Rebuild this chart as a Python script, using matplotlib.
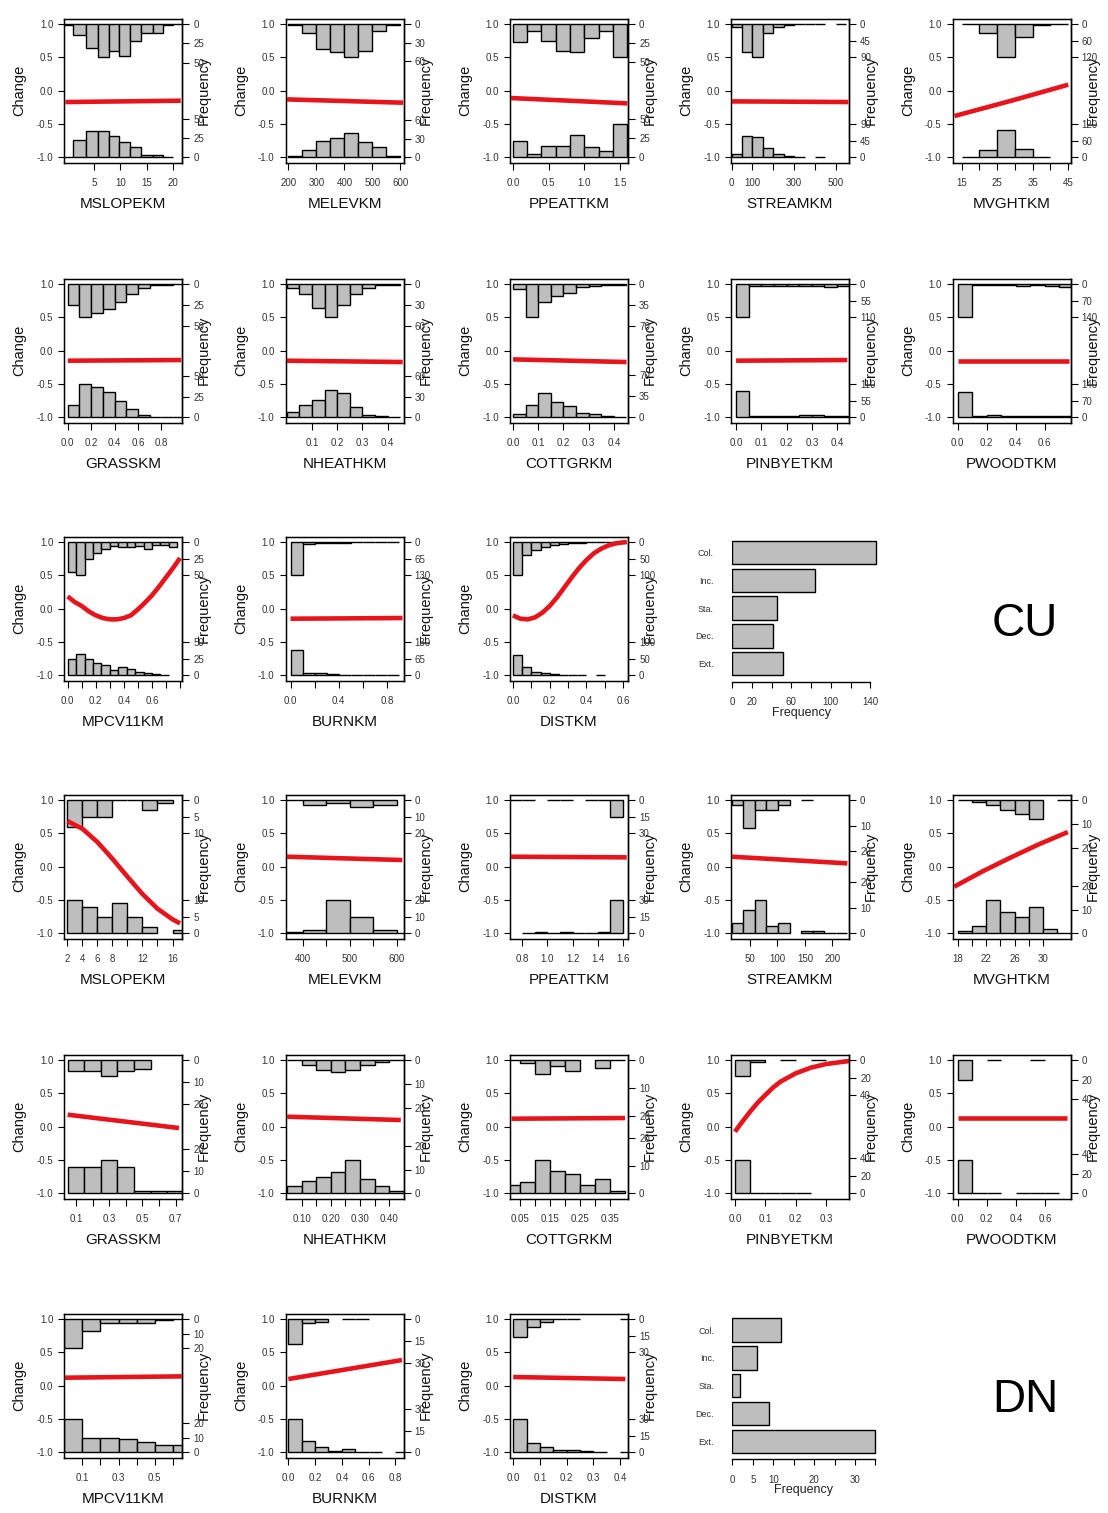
import matplotlib
matplotlib.use("Agg")
import matplotlib.pyplot as plt

plt.rcParams['font.family'] = ['Liberation Sans', 'DejaVu Sans']
plt.rcParams['axes.unicode_minus'] = False

N = None
GREY = "#bebebe"
RED = "#e8141c"

# ------------------------- CU data -------------------------
cu_mslope_edges = [-0.7, 1.0, 3.4, 5.8, 7.9, 9.8, 11.9, 14.0, 16.3, 18.1, 20.0, 21.8]
cu_mslope_top = [1, 14, 31, 43, 35, 41, 22, 12, 11, 1, 0]
cu_mslope_bot = [1, 23, 34, 34, 27, 20, 14, 3, 3, 1, N]
cu_mslope_cx = [-0.5, 21.5]
cu_mslope_cy = [-0.17, -0.15]

cu_melev_edges = [200, 250, 300, 350, 400, 450, 500, 550, 600]
cu_melev_top = [1, 15, 41, 46, 54, 43, 11, 1]
cu_melev_bot = [3, 12, 26, 32, 40, 25, 16, 2]
cu_melev_cx = [192, 610]
cu_melev_cy = [-0.13, -0.18]

cu_ppeat_edges = [0, 0.2, 0.4, 0.6, 0.8, 1.0, 1.2, 1.4, 1.6]
cu_ppeat_top = [24, 9, 23, 36, 37, 19, 9, 44]
cu_ppeat_bot = [22, 4, 15, 15, 30, 14, 8, 44]
cu_ppeat_cx = [-0.03, 1.6]
cu_ppeat_cy = [-0.11, -0.19]

cu_stream_edges = [0, 50, 100, 150, 200, 250, 300, 350, 400, 450, 500, 550]
cu_stream_top = [9, 77, 91, 25, 9, 3, 1, 0, 0, N, 0]
cu_stream_bot = [9, 59, 56, 25, 9, 5, 1, N, 0, N, N]
cu_stream_cx = [-2, 560]
cu_stream_cy = [-0.16, -0.17]

cu_mvght_edges = [15, 20, 25, 30, 35, 40, 45]
cu_mvght_top = [0, 34, 120, 48, 2, 0]
cu_mvght_bot = [0, 26, 98, 30, 2, N]
cu_mvght_cx = [13, 29, 45]
cu_mvght_cy = [-0.38, -0.15, 0.09]

cu_grass_edges = [0, 0.1, 0.2, 0.3, 0.4, 0.5, 0.6, 0.7, 0.8, 0.9, 1.0]
cu_grass_top = [25, 40, 35, 30, 22, 12, 5, 1, 1, 0]
cu_grass_bot = [15, 40, 37, 30, 20, 10, 3, 1, 1, 0]
cu_grass_cx = [0, 0.97]
cu_grass_cy = [-0.15, -0.14]

cu_nheath_edges = [0, 0.05, 0.1, 0.15, 0.2, 0.25, 0.3, 0.35, 0.4, 0.45]
cu_nheath_top = [5, 15, 35, 48, 30, 15, 5, 2, 1]
cu_nheath_bot = [8, 18, 25, 40, 35, 15, 4, 2, 1]
cu_nheath_cx = [0, 0.46]
cu_nheath_cy = [-0.15, -0.17]

cu_cottgr_edges = [0, 0.05, 0.1, 0.15, 0.2, 0.25, 0.3, 0.35, 0.4, 0.45]
cu_cottgr_top = [8, 55, 30, 20, 15, 5, 3, 1, 1]
cu_cottgr_bot = [6, 20, 40, 25, 18, 8, 5, 3, 1]
cu_cottgr_cx = [0, 0.45]
cu_cottgr_cy = [-0.13, -0.17]

cu_pinbye_edges = [0, 0.05, 0.1, 0.15, 0.2, 0.25, 0.3, 0.35, 0.4, 0.45]
cu_pinbye_top = [110, 8, 6, 6, 8, 6, 8, 9, 6]
cu_pinbye_bot = [88, 6, 6, 5, 6, 8, 9, 6, 5]
cu_pinbye_cx = [0, 0.44]
cu_pinbye_cy = [-0.15, -0.14]

cu_pwood_edges = [0, 0.1, 0.2, 0.3, 0.4, 0.5, 0.6, 0.7, 0.8]
cu_pwood_top = [140, 6, 5, 6, 8, 6, 8, 12]
cu_pwood_bot = [105, 5, 8, 5, 5, 4, 4, 4]
cu_pwood_cx = [0, 0.77]
cu_pwood_cy = [-0.15, -0.15]

cu_mpcv_edges = [0, 0.06, 0.12, 0.18, 0.24, 0.30, 0.36, 0.42, 0.48, 0.54, 0.60, 0.66, 0.72, 0.78]
cu_mpcv_top = [45, 50, 26, 16, 11, 6, 8, 8, 6, 10, 5, 5, 7]
cu_mpcv_bot = [25, 32, 24, 19, 16, 8, 12, 9, 5, 3, 2, 0, N]
cu_mpcv_cx = [0, 0.05, 0.1, 0.15, 0.2, 0.25, 0.3, 0.35, 0.4, 0.45, 0.5, 0.55, 0.6, 0.65, 0.7, 0.75, 0.8]
cu_mpcv_cy = [0.185, 0.1, 0.04, -0.04, -0.1, -0.14, -0.16, -0.16, -0.14, -0.1, -0.01, 0.09,
              0.2, 0.33, 0.47, 0.61, 0.76]

cu_burn_edges = [0, 0.1, 0.2, 0.3, 0.4, 0.5, 0.6, 0.7, 0.8, 0.9]
cu_burn_top = [130, 8, 5, 4, 2, 1, 1, 1, 1]
cu_burn_bot = [98, 10, 10, 5, 3, 2, 1, 1, 1]
cu_burn_cx = [0, 0.93]
cu_burn_cy = [-0.15, -0.14]

cu_dist_edges = [0, 0.05, 0.1, 0.15, 0.2, 0.25, 0.3, 0.35, 0.4, 0.45, 0.5, 0.55, 0.6]
cu_dist_top = [100, 40, 25, 15, 10, 6, 3, 2, 1, 1, 1, 1]
cu_dist_bot = [60, 25, 10, 8, 4, 2, 1, 0, N, 0, N, N]
cu_dist_cx = [0, 0.04, 0.08, 0.12, 0.16, 0.2, 0.24, 0.28, 0.32, 0.36, 0.4, 0.44, 0.48, 0.52,
              0.56, 0.6, 0.62]
cu_dist_cy = [-0.1, -0.15, -0.16, -0.13, -0.06, 0.04, 0.17, 0.32, 0.47, 0.61, 0.73, 0.83,
              0.9, 0.95, 0.98, 0.995, 1.0]

cu_status = ["Col.", "Inc.", "Sta.", "Dec.", "Ext."]
cu_status_freq = [146, 84, 46, 41, 52]

# ------------------------- DN data -------------------------
dn_mslope_edges = [2, 4, 6, 8, 10, 12, 14, 16, 18]
dn_mslope_top = [8, 5, 5, 0, 0, 3, 1, N]
dn_mslope_bot = [10, 8, 5, 9, 5, 2, N, 1]
dn_mslope_cx = [2, 4, 6, 8, 10, 12, 14, 16, 17]
dn_mslope_cy = [0.685, 0.57, 0.37, 0.12, -0.15, -0.41, -0.63, -0.79, -0.85]

dn_melev_edges = [350, 400, 450, 500, 550, 600, 650]
dn_melev_top = [0, 3, 2, 4, 3, N]
dn_melev_bot = [1, 2, 20, 10, 2, 0]
dn_melev_cx = [365, 612]
dn_melev_cy = [0.15, 0.1]

dn_ppeat_edges = [0.7, 0.8, 0.9, 1.0, 1.1, 1.2, 1.3, 1.4, 1.5, 1.6]
dn_ppeat_top = [0, 0, N, 0, 0, N, 0, 0, 15]
dn_ppeat_bot = [N, 0, 1, 0, 1, 0, 0, 1, 30]
dn_ppeat_cx = [0.71, 1.63]
dn_ppeat_cy = [0.15, 0.14]

dn_stream_edges = [17, 38, 59, 80, 101, 122, 143, 164, 185, 206, 227]
dn_stream_top = [2, 11, 4, 4, 2, N, 0, N, N, N]
dn_stream_bot = [4, 9, 13, 3, 4, N, 1, 1, 0, 0]
dn_stream_cx = [17, 227]
dn_stream_cy = [0.15, 0.05]

dn_mvght_edges = [18, 20, 22, 24, 26, 28, 30, 32, 34]
dn_mvght_top = [0, 1, 2, 4, 6, 8, N, 0]
dn_mvght_bot = [1, 3, 14, 9, 7, 11, 2, 0]
dn_mvght_cx = [17.5, 21.5, 25.5, 29.5, 33.5]
dn_mvght_cy = [-0.3, -0.07, 0.14, 0.34, 0.52]

dn_grass_edges = [0.05, 0.15, 0.25, 0.35, 0.45, 0.55, 0.65, 0.75]
dn_grass_top = [5, 5, 7, 5, 4, N, N]
dn_grass_bot = [12, 12, 15, 12, 1, 1, 1]
dn_grass_cx = [0.05, 0.72]
dn_grass_cy = [0.18, -0.02]

dn_nheath_edges = [0.05, 0.1, 0.15, 0.2, 0.25, 0.3, 0.35, 0.4, 0.45]
dn_nheath_top = [0, 2, 4, 5, 4, 2, 1, 0]
dn_nheath_bot = [3, 5, 7, 9, 14, 6, 3, 1]
dn_nheath_cx = [0.05, 0.44]
dn_nheath_cy = [0.15, 0.1]

dn_cottgr_edges = [0.0, 0.05, 0.1, 0.15, 0.2, 0.25, 0.3, 0.35, 0.4]
dn_cottgr_top = [0, 1, 5, 2, 4, N, 3, 0]
dn_cottgr_bot = [3, 4, 12, 8, 7, 3, 5, 1]
dn_cottgr_cx = [0.02, 0.4]
dn_cottgr_cy = [0.12, 0.13]

dn_pinbye_edges = [0, 0.05, 0.1, 0.15, 0.2, 0.25, 0.3, 0.35, 0.4]
dn_pinbye_top = [18, 2, N, 0, N, 0, N, 0]
dn_pinbye_bot = [38, 0, 0, 0, 0, N, N, N]
dn_pinbye_cx = [0, 0.025, 0.05, 0.075, 0.1, 0.125, 0.15, 0.2, 0.25, 0.3, 0.35, 0.376]
dn_pinbye_cy = [-0.075, 0.08, 0.225, 0.36, 0.475, 0.585, 0.675, 0.8, 0.885, 0.94, 0.97, 0.985]

dn_pwood_edges = [0, 0.1, 0.2, 0.3, 0.4, 0.5, 0.6, 0.7]
dn_pwood_top = [20, N, 0, N, N, 0, N]
dn_pwood_bot = [34, 0, 0, N, 0, 0, 0]
dn_pwood_cx = [0, 0.75]
dn_pwood_cy = [0.13, 0.13]

dn_mpcv_edges = [0.0, 0.1, 0.2, 0.3, 0.4, 0.5, 0.6, 0.7]
dn_mpcv_top = [20, 8, 3, 3, 3, 1, 0]
dn_mpcv_bot = [23, 10, 10, 9, 7, 5, 5]
dn_mpcv_cx = [0.0, 0.65]
dn_mpcv_cy = [0.12, 0.14]

dn_burn_edges = [0, 0.1, 0.2, 0.3, 0.4, 0.5, 0.6, 0.7, 0.8, 0.9]
dn_burn_top = [17, 3, 2, N, 0, 0, N, N, N]
dn_burn_bot = [23, 8, 4, 1, 2, 0, 0, N, 0]
dn_burn_cx = [0, 0.85]
dn_burn_cy = [0.1, 0.385]

dn_dist_edges = [0, 0.05, 0.1, 0.15, 0.2, 0.25, 0.3, 0.35, 0.4, 0.45]
dn_dist_top = [16, 7, 3, 0, 0, N, N, N, 0]
dn_dist_bot = [30, 8, 5, 2, 2, 1, 0, N, 0]
dn_dist_cx = [0, 0.42]
dn_dist_cy = [0.13, 0.1]

dn_status = ["Col.", "Inc.", "Sta.", "Dec.", "Ext."]
dn_status_freq = [12, 6, 2, 9, 35]

# ------------------------- layout -------------------------
W, H = 1108, 1513
fig = plt.figure(figsize=(W / 100, H / 100), dpi=100)

COL_L = [64.3, 285.7, 510, 731, 952.7]
BOX_W = 118
ROW_T = [18.7, 278.7, 536.7, 794.7, 1054.7, 1313.7]
BOX_H = 144
TICKC = "#333333"


def hist_panel(row, col, label, edges, top, bot, cx, cy, xlim, xticks, xlabels, fticks):
    x0 = COL_L[col]
    y0 = ROW_T[row]
    ax = fig.add_axes([x0 / W, 1 - (y0 + BOX_H) / H, BOX_W / W, BOX_H / H])
    ax.set_xlim(*xlim)
    ax.set_ylim(-1.08, 1.08)
    vals = [v for v in top + bot if v is not None]
    s = 0.5 / max(vals)
    lefts = edges[:-1]
    widths = [edges[i + 1] - edges[i] for i in range(len(lefts))]
    tl = [lefts[i] for i in range(len(top)) if top[i] is not None]
    tw = [widths[i] for i in range(len(top)) if top[i] is not None]
    th = [-top[i] * s for i in range(len(top)) if top[i] is not None]
    ax.bar(tl, th, width=tw, bottom=1, align='edge', color=GREY,
           edgecolor='black', linewidth=1.0, zorder=2)
    bl = [lefts[i] for i in range(len(bot)) if bot[i] is not None]
    bw = [widths[i] for i in range(len(bot)) if bot[i] is not None]
    bh = [bot[i] * s for i in range(len(bot)) if bot[i] is not None]
    ax.bar(bl, bh, width=bw, bottom=-1, align='edge', color=GREY,
           edgecolor='black', linewidth=1.0, zorder=2)
    ax.plot(cx, cy, color=RED, lw=3.3, zorder=3, solid_capstyle='butt')

    ax.set_yticks([-1, -0.5, 0, 0.5, 1])
    ax.set_yticklabels(["-1.0", "-0.5", "0.0", "0.5", "1.0"])
    ax.set_xticks(xticks)
    ax.set_xticklabels(xlabels)
    ax.tick_params(axis='y', direction='out', length=4, width=0.8,
                   labelsize=7, labelcolor=TICKC, pad=4)
    ax.tick_params(axis='x', direction='out', length=5, width=0.8,
                   labelsize=7, labelcolor=TICKC, pad=6)
    for sp in ax.spines.values():
        sp.set_linewidth(1.0)

    ax2 = ax.twinx()
    ax2.set_ylim(-1.08, 1.08)
    pos = [1 - f * s for f in fticks] + [-1 + f * s for f in fticks]
    ax2.set_yticks(pos)
    ax2.set_yticklabels([str(f) for f in fticks] * 2)
    ax2.tick_params(axis='y', direction='out', length=5, width=0.8,
                    labelsize=7, labelcolor=TICKC, pad=3)
    ax2.spines['right'].set_linewidth(1.0)

    ax.text(-0.378, 0.5, "Change", transform=ax.transAxes, rotation=90,
            ha='center', va='center', fontsize=10.5, color='#111111')
    ax.text(1.185, 0.5, "Frequency", transform=ax.transAxes, rotation=90,
            ha='center', va='center', fontsize=10.5, color='#111111')
    ax.text(0.5, -41 / BOX_H, label, transform=ax.transAxes,
            ha='center', va='center', fontsize=11, color='#111111')
    return ax


def status_panel(left, top_px, bottom_px, unit_px, names, freq, xmax, xticks, xlabels, tag, tag_y):
    ypos = list(range(len(names)))
    width_px = xmax * unit_px
    ax = fig.add_axes([left / W, 1 - bottom_px / H, width_px / W, (bottom_px - top_px) / H])
    ax.barh(ypos, freq, height=0.833, color=GREY, edgecolor='black', linewidth=1.0)
    ax.set_xlim(0, xmax)
    ax.set_ylim(4 + 0.64, -0.56)
    for k in ['top', 'right', 'left']:
        ax.spines[k].set_visible(False)
    ax.spines['bottom'].set_bounds(xticks[0], xticks[-1])
    ax.spines['bottom'].set_linewidth(1.0)
    ax.set_yticks(ypos)
    ax.set_yticklabels(names)
    ax.tick_params(axis='y', length=0, labelsize=6.5, labelcolor=TICKC, pad=13)
    ax.set_xticks(xticks)
    ax.set_xticklabels(xlabels)
    ax.tick_params(axis='x', direction='out', length=4, width=0.8,
                   labelsize=7, labelcolor=TICKC, pad=7)
    ax.text(0.5 * (xticks[-1]) / xmax, -31 / (bottom_px - top_px), "Frequency",
            transform=ax.transAxes, ha='center', va='center', fontsize=9, color='#222222')
    fig.text(1025 / W, 1 - tag_y / H, tag, ha='center', va='center', fontsize=33)
    return ax


# ------------------------- CU panels -------------------------
hist_panel(0, 0, "MSLOPEKM", cu_mslope_edges, cu_mslope_top, cu_mslope_bot,
           cu_mslope_cx, cu_mslope_cy, (-0.7, 21.8), [5, 10, 15, 20], ["5", "10", "15", "20"], [0, 25, 50])
hist_panel(0, 1, "MELEVKM", cu_melev_edges, cu_melev_top, cu_melev_bot,
           cu_melev_cx, cu_melev_cy, (190, 612), [200, 300, 400, 500, 600],
           ["200", "300", "400", "500", "600"], [0, 30, 60])
hist_panel(0, 2, "PPEATTKM", cu_ppeat_edges, cu_ppeat_top, cu_ppeat_bot,
           cu_ppeat_cx, cu_ppeat_cy, (-0.04, 1.61), [0, 0.5, 1.0, 1.5],
           ["0.0", "0.5", "1.0", "1.5"], [0, 25, 50])
hist_panel(0, 3, "STREAMKM", cu_stream_edges, cu_stream_top, cu_stream_bot,
           cu_stream_cx, cu_stream_cy, (-3, 563), [0, 100, 200, 300, 400, 500],
           ["0", "100", "", "300", "", "500"], [0, 45, 90])
hist_panel(0, 4, "MVGHTKM", cu_mvght_edges, cu_mvght_top, cu_mvght_bot,
           cu_mvght_cx, cu_mvght_cy, (12.5, 45.7), [15, 20, 25, 30, 35, 40, 45],
           ["15", "", "25", "", "35", "", "45"], [0, 60, 120])

hist_panel(1, 0, "GRASSKM", cu_grass_edges, cu_grass_top, cu_grass_bot,
           cu_grass_cx, cu_grass_cy, (-0.03, 0.98), [0, 0.2, 0.4, 0.6, 0.8],
           ["0.0", "0.2", "0.4", "0.6", "0.8"], [0, 25, 50])
hist_panel(1, 1, "NHEATHKM", cu_nheath_edges, cu_nheath_top, cu_nheath_bot,
           cu_nheath_cx, cu_nheath_cy, (-0.004, 0.464), [0.1, 0.2, 0.3, 0.4],
           ["0.1", "0.2", "0.3", "0.4"], [0, 30, 60])
hist_panel(1, 2, "COTTGRKM", cu_cottgr_edges, cu_cottgr_top, cu_cottgr_bot,
           cu_cottgr_cx, cu_cottgr_cy, (-0.012, 0.456), [0, 0.1, 0.2, 0.3, 0.4],
           ["0.0", "0.1", "0.2", "0.3", "0.4"], [0, 35, 70])
hist_panel(1, 3, "PINBYETKM", cu_pinbye_edges, cu_pinbye_top, cu_pinbye_bot,
           cu_pinbye_cx, cu_pinbye_cy, (-0.02, 0.447), [0, 0.1, 0.2, 0.3, 0.4],
           ["0.0", "0.1", "0.2", "0.3", "0.4"], [0, 55, 110])
hist_panel(1, 4, "PWOODTKM", cu_pwood_edges, cu_pwood_top, cu_pwood_bot,
           cu_pwood_cx, cu_pwood_cy, (-0.034, 0.78), [0, 0.2, 0.4, 0.6],
           ["0.0", "0.2", "0.4", "0.6"], [0, 70, 140])

hist_panel(2, 0, "MPCV11KM", cu_mpcv_edges, cu_mpcv_top, cu_mpcv_bot,
           cu_mpcv_cx, cu_mpcv_cy, (-0.024, 0.816), [0, 0.1, 0.2, 0.3, 0.4, 0.5, 0.6, 0.7, 0.8],
           ["0.0", "", "0.2", "", "0.4", "", "0.6", "", ""], [0, 25, 50])
hist_panel(2, 1, "BURNKM", cu_burn_edges, cu_burn_top, cu_burn_bot,
           cu_burn_cx, cu_burn_cy, (-0.04, 0.94), [0, 0.2, 0.4, 0.6, 0.8],
           ["0.0", "", "0.4", "", "0.8"], [0, 65, 130])
hist_panel(2, 2, "DISTKM", cu_dist_edges, cu_dist_top, cu_dist_bot,
           cu_dist_cx, cu_dist_cy, (-0.016, 0.626), [0, 0.1, 0.2, 0.3, 0.4, 0.5, 0.6],
           ["0.0", "", "0.2", "", "0.4", "", "0.6"], [0, 50, 100])
status_panel(732, 536.7, 681.7, 0.988, cu_status, cu_status_freq, 150,
             [0, 20, 40, 60, 80, 100, 120, 140], ["0", "20", "", "60", "", "100", "", "140"], "CU", 624)

# ------------------------- DN panels -------------------------
hist_panel(3, 0, "MSLOPEKM", dn_mslope_edges, dn_mslope_top, dn_mslope_bot,
           dn_mslope_cx, dn_mslope_cy, (1.6, 17.3), [2, 4, 6, 8, 10, 12, 14, 16],
           ["2", "4", "6", "8", "", "12", "", "16"], [0, 5, 10])
hist_panel(3, 1, "MELEVKM", dn_melev_edges, dn_melev_top, dn_melev_bot,
           dn_melev_cx, dn_melev_cy, (363, 615), [400, 450, 500, 550, 600],
           ["400", "", "500", "", "600"], [0, 10, 20])
hist_panel(3, 2, "PPEATTKM", dn_ppeat_edges, dn_ppeat_top, dn_ppeat_bot,
           dn_ppeat_cx, dn_ppeat_cy, (0.704, 1.64), [0.8, 1.0, 1.2, 1.4, 1.6],
           ["0.8", "1.0", "1.2", "1.4", "1.6"], [0, 15, 30])
hist_panel(3, 3, "STREAMKM", dn_stream_edges, dn_stream_top, dn_stream_bot,
           dn_stream_cx, dn_stream_cy, (15.8, 230), [50, 100, 150, 200],
           ["50", "100", "150", "200"], [0, 10, 20])
hist_panel(3, 4, "MVGHTKM", dn_mvght_edges, dn_mvght_top, dn_mvght_bot,
           dn_mvght_cx, dn_mvght_cy, (17.3, 33.9), [18, 20, 22, 24, 26, 28, 30],
           ["18", "", "22", "", "26", "", "30"], [0, 10, 20])

hist_panel(4, 0, "GRASSKM", dn_grass_edges, dn_grass_top, dn_grass_bot,
           dn_grass_cx, dn_grass_cy, (0.03, 0.74), [0.1, 0.2, 0.3, 0.4, 0.5, 0.6, 0.7],
           ["0.1", "", "0.3", "", "0.5", "", "0.7"], [0, 10, 20])
hist_panel(4, 1, "NHEATHKM", dn_nheath_edges, dn_nheath_top, dn_nheath_bot,
           dn_nheath_cx, dn_nheath_cy, (0.045, 0.45), [0.1, 0.15, 0.2, 0.25, 0.3, 0.35, 0.4],
           ["0.10", "", "0.20", "", "0.30", "", "0.40"], [0, 10, 20])
hist_panel(4, 2, "COTTGRKM", dn_cottgr_edges, dn_cottgr_top, dn_cottgr_bot,
           dn_cottgr_cx, dn_cottgr_cy, (0.015, 0.41), [0.05, 0.1, 0.15, 0.2, 0.25, 0.3, 0.35],
           ["0.05", "", "0.15", "", "0.25", "", "0.35"], [0, 10, 20])
hist_panel(4, 3, "PINBYETKM", dn_pinbye_edges, dn_pinbye_top, dn_pinbye_bot,
           dn_pinbye_cx, dn_pinbye_cy, (-0.013, 0.376), [0, 0.1, 0.2, 0.3],
           ["0.0", "0.1", "0.2", "0.3"], [0, 20, 40])
hist_panel(4, 4, "PWOODTKM", dn_pwood_edges, dn_pwood_top, dn_pwood_bot,
           dn_pwood_cx, dn_pwood_cy, (-0.034, 0.777), [0, 0.2, 0.4, 0.6],
           ["0.0", "0.2", "0.4", "0.6"], [0, 20, 40])

hist_panel(5, 0, "MPCV11KM", dn_mpcv_edges, dn_mpcv_top, dn_mpcv_bot,
           dn_mpcv_cx, dn_mpcv_cy, (0.0, 0.653), [0.1, 0.2, 0.3, 0.4, 0.5, 0.6],
           ["0.1", "", "0.3", "", "0.5", ""], [0, 10, 20])
hist_panel(5, 1, "BURNKM", dn_burn_edges, dn_burn_top, dn_burn_bot,
           dn_burn_cx, dn_burn_cy, (-0.02, 0.863), [0, 0.2, 0.4, 0.6, 0.8],
           ["0.0", "0.2", "0.4", "0.6", "0.8"], [0, 15, 30])
hist_panel(5, 2, "DISTKM", dn_dist_edges, dn_dist_top, dn_dist_bot,
           dn_dist_cx, dn_dist_cy, (-0.012, 0.43), [0, 0.1, 0.2, 0.3, 0.4],
           ["0.0", "0.1", "0.2", "0.3", "0.4"], [0, 15, 30])
status_panel(732.3, 1314.5, 1459.3, 4.09, dn_status, dn_status_freq, 36,
             [0, 5, 10, 15, 20, 25, 30, 35], ["0", "5", "10", "", "20", "", "30", ""], "DN", 1400)

fig.savefig("out.png", dpi=100)
